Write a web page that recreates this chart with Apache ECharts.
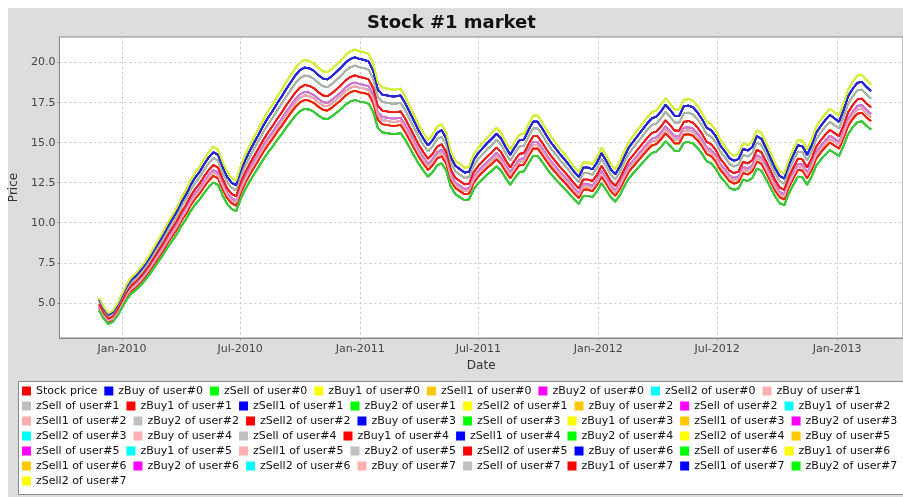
<!DOCTYPE html>
<html><head><meta charset="utf-8">
<script src="https://cdn.jsdelivr.net/npm/echarts@6/dist/echarts.min.js"></script>
<style>html,body{margin:0;padding:0;background:#fff}#c{width:903px;height:497px}</style>
</head><body><div id="c"></div>
<script>
// weekly observations starting 2009-11-27
const startDate = [2009, 10, 27];
const stockPrice = [
4.9,4.35,4.0,4.15,4.55,5.1,5.65,6.05,6.3,6.6,
6.95,7.35,7.8,8.25,8.7,9.2,9.65,10.1,10.65,11.1,
11.65,12.1,12.45,12.9,13.3,13.6,13.45,12.75,12.15,11.8,
11.65,12.5,13.15,13.7,14.2,14.7,15.2,15.65,16.05,16.5,
16.9,17.35,17.75,18.15,18.45,18.6,18.55,18.4,18.15,17.95,
17.9,18.1,18.35,18.6,18.9,19.1,19.2,19.1,19.05,18.95,
18.4,17.3,17.0,16.95,16.9,16.9,16.95,16.5,15.95,15.4,
14.85,14.4,14.0,14.3,14.75,14.9,14.4,13.3,12.8,12.6,
12.4,12.45,13.15,13.55,13.85,14.15,14.4,14.7,14.4,13.9,
13.45,13.9,14.3,14.35,14.9,15.4,15.4,15.0,14.55,14.15,
13.8,13.45,13.15,12.8,12.45,12.15,12.7,12.7,12.6,13.0,
13.55,13.1,12.6,12.3,12.75,13.35,13.9,14.25,14.6,14.95,
15.3,15.6,15.7,16.0,16.4,16.1,15.75,15.75,16.3,16.35,
16.25,15.95,15.55,15.05,14.9,14.55,14.0,13.65,13.25,13.1,
13.2,13.8,13.7,13.9,14.55,14.4,13.85,13.25,12.65,12.2,
12.05,12.85,13.45,14.0,13.95,13.45,14.0,14.75,15.15,15.5,
15.8,15.6,15.4,16.1,16.9,17.35,17.7,17.75,17.45,17.2
];
const seriesKinds = ['zBuy','zSell','zBuy1','zSell1','zBuy2','zSell2'];
const userCount = 8;
// ratio of each series to the stock price
const seriesFactors = [
1.0,
1.059,0.92,1.084,0.95,0.977,0.965, 0.965,1.032,
1.0,1.059,0.92,1.084, 0.95,0.977,0.965,0.965,1.032,
0.95, 1.059,0.92,1.084,0.95,0.977,0.965, 0.965,1.032,
1.0,1.059,0.92,1.084, 0.95,0.977,0.965,0.965,1.032,
0.95, 1.059,0.92,1.084,0.95,0.977,0.965, 0.965,1.032,
1.0,1.059,0.92,1.084
];
const palette =    ['#ff0000','#0000ff','#00ff00','#ffff00','#ffc800','#ff00ff','#00ffff','#ffafaf','#c0c0c0'];
const lineColors = ['#ee1c1c','#2626d6','#3cc83c','#d4ee3a','#ffb400','#cc78d0','#00e0e0','#f2a6b0','#a6b4a6'];
const yTicks = [5, 7.5, 10, 12.5, 15, 17.5, 20];
const xTickDates = [[2010,0,1],[2010,6,1],[2011,0,1],[2011,6,1],[2012,0,1],[2012,6,1],[2013,0,1]];
const xRange = [[2009,8,27],[2013,3,12]];
const monthNames = ['Jan','Feb','Mar','Apr','May','Jun','Jul','Aug','Sep','Oct','Nov','Dec'];
const legendRowSizes = [8,8,8,8,8,8,1];

const seriesNames = ['Stock price'];
for (let u = 0; u < userCount; u++) for (const k of seriesKinds) seriesNames.push(k + ' of user#' + u);

const ts = a => Date.UTC(a[0], a[1], a[2]);
const dates = stockPrice.map((_, i) => Date.UTC(startDate[0], startDate[1], startDate[2] + 7 * i));
const xTickValues = xTickDates.map(ts);

const FONT = 'DejaVu Sans';
const series = seriesNames.map((name, k) => {
  const c = k % 9;
  return {
    name, type: 'line', symbol: 'none', showSymbol: false,
    z: (c === 4 || c === 6) ? 1 : 2,
    itemStyle: { color: palette[c] },
    lineStyle: { color: lineColors[c], width: 1.7 },
    emphasis: { disabled: true },
    data: dates.map((d, i) => [d, +(stockPrice[i] * seriesFactors[k]).toFixed(3)])
  };
});

let idx = 0;
const legends = legendRowSizes.map((n, r) => {
  const data = seriesNames.slice(idx, idx + n); idx += n;
  return {
    data, left: 22, top: 385.5 + 15 * r, width: 1400, orient: 'horizontal', icon: 'rect',
    itemWidth: 9, itemHeight: 9, itemGap: 7, padding: 0, selectedMode: false,
    textStyle: { fontSize: 11, fontFamily: FONT, color: '#111' }
  };
});

const chart = echarts.init(document.getElementById('c'), null, { renderer: 'canvas' });
chart.setOption({
  animation: false,
  backgroundColor: '#ffffff',
  graphic: [
    { type: 'rect', z: -10, silent: true, shape: { x: 8, y: 8, width: 900, height: 495 }, style: { fill: '#dddddd' } },
    { type: 'rect', z: -5, silent: true, shape: { x: 18.5, y: 381.5, width: 900, height: 113 }, style: { fill: '#ffffff', stroke: '#8a8a8a', lineWidth: 1 } }
  ],
  title: {
    text: 'Stock #1 market', left: 'center', top: 9,
    textStyle: { fontFamily: FONT, fontSize: 18, fontWeight: 'bold', color: '#111' }
  },
  legend: legends,
  grid: { left: 55, right: 0, top: 37, bottom: 159, show: true, backgroundColor: '#ffffff', borderColor: '#8a8a8a', borderWidth: 1, containLabel: false },
  xAxis: {
    type: 'value', min: ts(xRange[0]), max: ts(xRange[1]), scale: true,
    name: 'Date', nameLocation: 'middle', nameGap: 21,
    nameTextStyle: { fontFamily: FONT, fontSize: 12, color: '#333' },
    axisLine: { show: true, lineStyle: { color: '#8a8a8a' } },
    axisTick: { show: true, length: 2, customValues: xTickValues, lineStyle: { color: '#8a8a8a' } },
    axisLabel: {
      customValues: xTickValues, margin: 6, hideOverlap: false,
      fontFamily: FONT, fontSize: 11, color: '#444',
      formatter: v => { const d = new Date(v); return monthNames[d.getUTCMonth()] + '-' + d.getUTCFullYear(); }
    },
    splitLine: { show: true, lineStyle: { color: '#c6c6c6', type: [2, 3], width: 1 } }
  },
  yAxis: {
    type: 'value', min: 2.8, max: 21.6,
    name: 'Price', nameLocation: 'middle', nameGap: 29, nameRotate: 90,
    nameTextStyle: { fontFamily: FONT, fontSize: 12, color: '#333' },
    axisLine: { show: true, lineStyle: { color: '#8a8a8a' } },
    axisTick: { show: true, length: 2, customValues: yTicks, lineStyle: { color: '#8a8a8a' } },
    axisLabel: {
      customValues: yTicks, margin: 4, showMinLabel: true, showMaxLabel: true,
      fontFamily: FONT, fontSize: 11, color: '#444',
      formatter: v => Number(v).toFixed(1)
    },
    splitLine: { show: true, lineStyle: { color: '#c6c6c6', type: [2, 3], width: 1 } }
  },
  series
});
</script></body></html>
